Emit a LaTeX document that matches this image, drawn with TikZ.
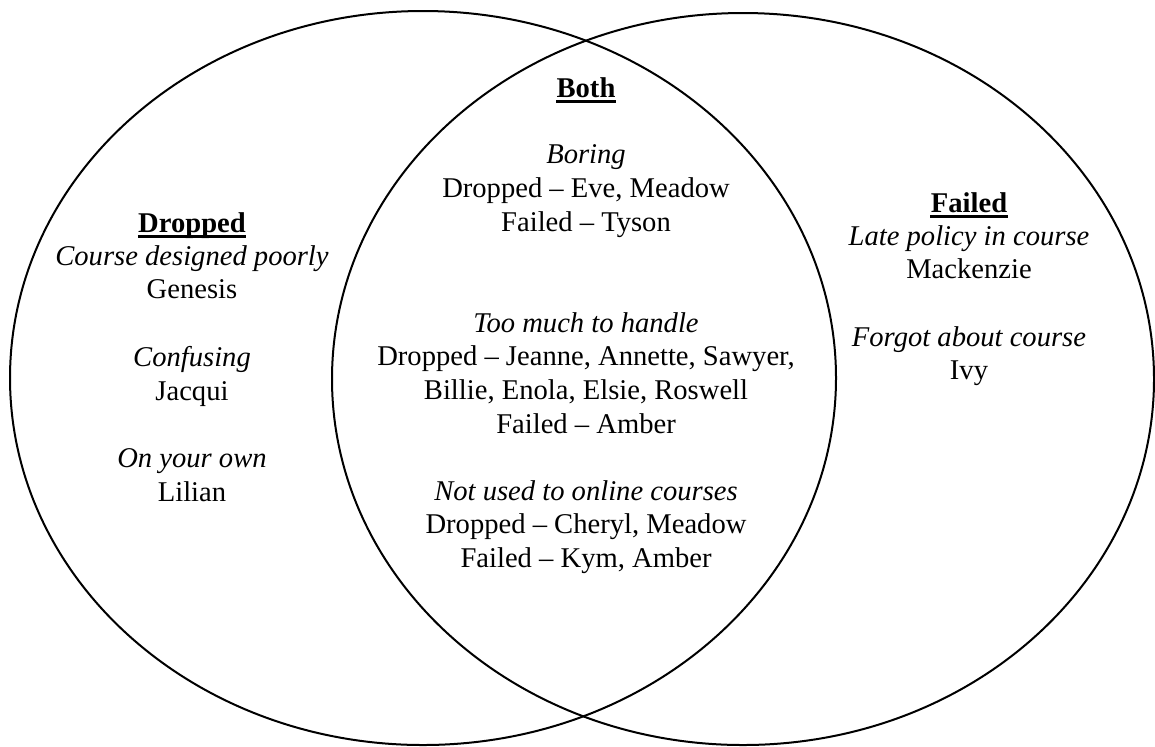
\documentclass[tikz,border=0pt]{standalone}
\usepackage{fontspec}
\setmainfont{Liberation Serif}
\tikzset{
  venn/.style={line width=1pt},
  lbl/.style={anchor=base, inner sep=0pt, font=\fontsize{14.3}{17}\selectfont},
  head/.style={lbl, font=\fontsize{14.3}{17}\selectfont\bfseries},
  uline/.style={line width=1.3pt},
}
\begin{document}
\begin{tikzpicture}[x=0.5pt, y=-0.5pt]
\useasboundingbox (0,0) rectangle (1155,746);
%the two sets
\draw[venn] (423,378) ellipse [x radius=413, y radius=367];
\draw[venn] (743,379) ellipse [x radius=411, y radius=366];

%headings
\node[head] (both) at (586,97) {Both};
\node[head] (dropped) at (192,232) {Dropped};
\node[head] (failed) at (969,212) {Failed};
\foreach \h in {both,dropped,failed}
  \draw[uline] ([yshift=-2.2pt]\h.base west) -- ([yshift=-2.2pt]\h.base east);

%dropped only
\foreach \n/\y/\t in {d1/265/\textit{Course designed poorly}, d2/298.5/Genesis,
  d3/366/\textit{Confusing}, d4/400/Jacqui, d5/467/\textit{On your own}, d6/501/Lilian}
  \node[lbl] (\n) at (192,\y) {\t};

%both
\foreach \n/\y/\t in {c1/163/\textit{Boring}, c2/197/{Dropped -- Eve, Meadow},
  c3/231/Failed -- Tyson, c4/332/\textit{Too much to handle},
  c5/365.5/{Dropped -- Jeanne, Annette, Sawyer,}, c6/399/{Billie, Enola, Elsie, Roswell},
  c7/433/Failed -- Amber, c8/500/\textit{Not used to online courses},
  c9/533.5/{Dropped -- Cheryl, Meadow}, c10/567/{Failed -- Kym, Amber}}
  \node[lbl] (\n) at (586,\y) {\t};

%failed only
\foreach \n/\y/\t in {f1/245/\textit{Late policy in course}, f2/278.5/Mackenzie,
  f3/346/\textit{Forgot about course}, f4/379.5/Ivy}
  \node[lbl] (\n) at (969,\y) {\t};
\end{tikzpicture}
\end{document}
